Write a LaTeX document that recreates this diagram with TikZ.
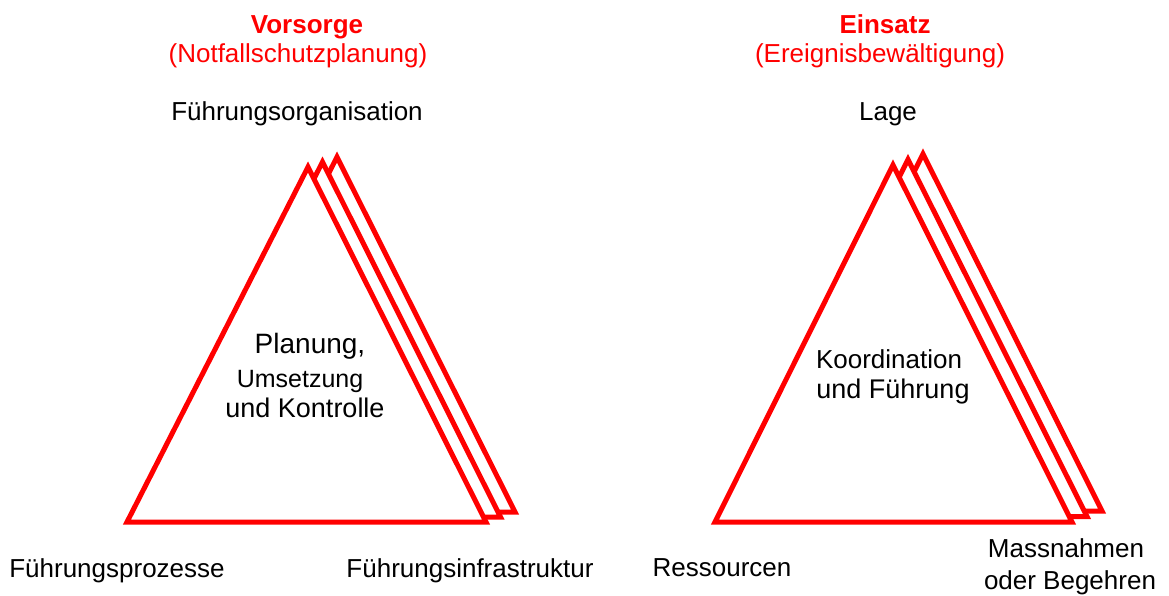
\documentclass[tikz,border=0pt]{standalone}
\usepackage{fontspec}
\setmainfont{Liberation Sans}
\begin{document}
\begin{tikzpicture}[x=1pt,y=-1pt,
  tri/.style={draw=red,line width=5pt,fill=white,line join=miter},
  lbl/.style={font=\fontsize{26}{31}\selectfont, anchor=base, inner sep=0pt},
  ttl/.style={lbl,text=red}]
\useasboundingbox (0,0) rectangle (1169,595);
% left stack
\foreach \k in {2,1,0}{
  \begin{scope}[shift={(\k*14.5,-\k*5)}]
    \draw[tri] (308,167) coordinate (LA\k) -- (127,522) coordinate (LB\k) -- (486,522) coordinate (LC\k) -- cycle;
  \end{scope}
}
% right stack
\foreach \k in {2,1,0}{
  \begin{scope}[shift={(\k*15,-\k*5.5)}]
    \draw[tri] (893,165) coordinate (RA\k) -- (715,522) coordinate (RB\k) -- (1072,522) coordinate (RC\k) -- cycle;
  \end{scope}
}
% titles
\node[ttl,font=\fontsize{26}{31}\selectfont\bfseries] (vorsorge) at (307,33) {Vorsorge};
\node[ttl] (notfall) at (298,62) {(Notfallschutzplanung)};
\node[ttl,font=\fontsize{26}{31}\selectfont\bfseries] (einsatz) at (885,33) {Einsatz};
\node[ttl] (ereignis) at (880,62) {(Ereignisbewältigung)};
% corner labels left
\node[lbl] (forg) at (297,120) {Führungsorganisation};
\node[lbl] (fproz) at (117,577) {Führungsprozesse};
\node[lbl] (finfra) at (470,577) {Führungsinfrastruktur};
% corner labels right
\node[lbl] (lage) at (888,120) {Lage};
\node[lbl] (ress) at (722,576) {Ressourcen};
\node[lbl] (mass) at (1066,557) {Massnahmen};
\node[lbl] (begehren) at (1070,589) {oder Begehren};
% inner texts
\node[lbl,font=\fontsize{28}{31}\selectfont] (planung) at (310,353) {Planung,};
\node[lbl,font=\fontsize{25}{31}\selectfont] (umsetzung) at (300,387) {Umsetzung};
\node[lbl,font=\fontsize{27}{31}\selectfont] (kontrolle) at (305,417) {und Kontrolle};
\node[lbl] (koord) at (889,368) {Koordination};
\node[lbl,font=\fontsize{27}{31}\selectfont] (fuehrung) at (893,398) {und Führung};
\end{tikzpicture}
\end{document}
